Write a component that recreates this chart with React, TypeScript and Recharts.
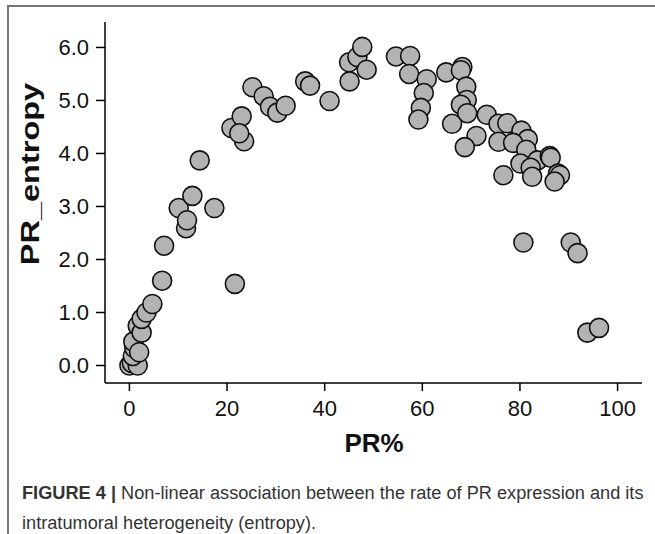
import { Scatter, ScatterChart, XAxis, YAxis } from "recharts"

const prPercent = [
  0, 0.5, 1.7, 0.7, 1.0, 0.8, 2.0, 1.7, 2.5, 2.5, 3.5, 4.7, 6.7, 7.1, 21.6, 10.1,
  11.6, 11.8, 17.4, 12.9, 14.4, 20.9, 23.0, 23.5, 22.5, 25.2, 27.5, 28.8, 30.3,
  32.0, 36.0, 37.0, 41.0, 45.0, 46.7, 47.7, 48.6, 45.1, 54.6, 57.5, 57.3, 60.9,
  60.3, 59.7, 59.2, 64.9, 68.2, 67.9, 69.0, 69.1, 67.9, 69.2, 66.1, 71.1, 68.7,
  73.2, 75.6, 77.4, 80.3, 81.6, 75.6, 78.6, 81.3, 80.1, 83.6, 86.1, 86.3, 82.2,
  82.5, 76.6, 87.8, 88.2, 87.1, 80.7, 90.4, 91.8, 93.8, 96.2,
]

const prEntropy = [
  0, 0.05, 0, 0.18, 0.33, 0.45, 0.25, 0.75, 0.62, 0.88, 1.0, 1.16, 1.6, 2.26, 1.54,
  2.97, 2.59, 2.74, 2.97, 3.2, 3.87, 4.48, 4.7, 4.23, 4.38, 5.25, 5.08, 4.88, 4.77,
  4.9, 5.36, 5.28, 4.99, 5.72, 5.82, 6.01, 5.58, 5.36, 5.83, 5.84, 5.5, 5.4, 5.14,
  4.86, 4.64, 5.53, 5.63, 5.57, 5.26, 5.01, 4.92, 4.76, 4.56, 4.33, 4.12, 4.73,
  4.56, 4.57, 4.43, 4.27, 4.22, 4.2, 4.07, 3.81, 3.87, 3.95, 3.92, 3.73, 3.56,
  3.59, 3.62, 3.59, 3.47, 2.32, 2.32, 2.12, 0.62, 0.71,
]

const xTicks = [0, 20, 40, 60, 80, 100]
const yTicks = [0, 1, 2, 3, 4, 5, 6]

const points = prPercent.map((x, i) => ({ x, y: prEntropy[i] }))

const tickFont = { fontFamily: "Liberation Sans, Arial, sans-serif", fontSize: 22, fill: "#111" }

const Dot = (props: any) => (
  <circle cx={props.cx} cy={props.cy} r={9.5} fill="#b3b3b3" stroke="#111" strokeWidth={1.6} />
)

const captionLine = {
  position: "absolute" as const,
  left: 22,
  fontFamily: "Liberation Sans, Arial, sans-serif",
  fontSize: 18,
  color: "#333",
  whiteSpace: "nowrap" as const,
  transform: "translateY(-50%) scaleX(1.01)",
  transformOrigin: "left center",
}

export default function App() {
  return (
    <div style={{ position: "absolute", left: 0, top: 0, width: 655, height: 534, background: "#fff" }}>
      <div style={{ position: "absolute", left: 7, top: 5, right: 0, height: 2, background: "#777" }} />
      <div style={{ position: "absolute", left: 7, top: 5, width: 2, bottom: 0, background: "#777" }} />
      <ScatterChart
        width={655}
        height={430}
        margin={{ top: 22, right: 13, bottom: 0, left: 0 }}
        style={{ position: "absolute", left: 0, top: 0 }}
      >
        <XAxis
          type="number"
          dataKey="x"
          domain={[-5, 105]}
          ticks={xTicks}
          allowDataOverflow
          height={47}
          tickSize={8}
          tickMargin={9}
          stroke="#000"
          strokeWidth={1.5}
          tick={tickFont}
        />
        <YAxis
          type="number"
          dataKey="y"
          domain={[-0.33, 6.48]}
          ticks={yTicks}
          allowDataOverflow
          width={105}
          tickSize={9}
          tickMargin={7}
          stroke="#000"
          strokeWidth={1.5}
          tick={tickFont}
          tickFormatter={(v: number) => v.toFixed(1)}
        />
        <Scatter data={points} shape={Dot} isAnimationActive={false} />
      </ScatterChart>
      <div
        style={{
          position: "absolute",
          left: 30,
          top: 174,
          transform: "translate(-50%, -50%) rotate(-90deg) scaleX(1.25)",
          fontFamily: "Liberation Sans, Arial, sans-serif",
          fontWeight: "bold",
          fontSize: 26,
          color: "#111",
          whiteSpace: "nowrap",
        }}
      >
        PR_entropy
      </div>
      <div
        style={{
          position: "absolute",
          left: 374,
          top: 443,
          transform: "translate(-50%, -50%)",
          fontFamily: "Liberation Sans, Arial, sans-serif",
          fontWeight: "bold",
          fontSize: 26,
          color: "#111",
          whiteSpace: "nowrap",
        }}
      >
        PR%
      </div>
      <div style={{ ...captionLine, top: 493 }}>
        <b>FIGURE 4 |</b> Non-linear association between the rate of PR expression and its
      </div>
      <div style={{ ...captionLine, top: 523 }}>intratumoral heterogeneity (entropy).</div>
    </div>
  )
}
